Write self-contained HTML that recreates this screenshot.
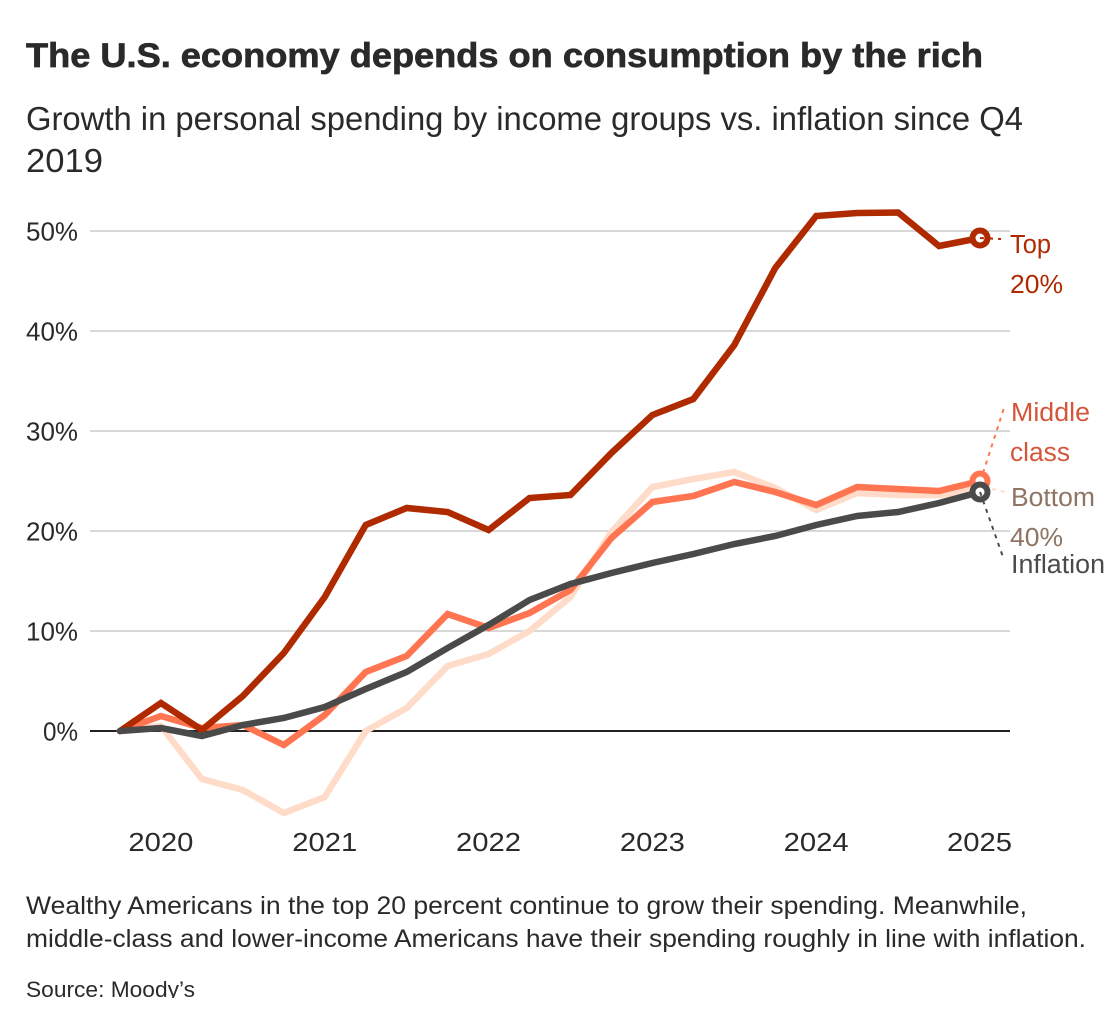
<!DOCTYPE html>
<html lang="en">
<head>
<meta charset="utf-8">
<title>The U.S. economy depends on consumption by the rich</title>
<style>
html,body{margin:0;padding:0;background:#fff;width:1120px;height:1024px;overflow:hidden}
svg{display:block}
text{font-family:"Liberation Sans",sans-serif;fill:#2a2a2a}
</style>
</head>
<body>
<svg id="chart" xmlns="http://www.w3.org/2000/svg" width="1120" height="1024" viewBox="0 0 1120 1024">
<defs><clipPath id="source-clip"><rect x="0" y="970" width="400" height="28"/></clipPath></defs>
<rect x="0" y="0" width="1120" height="1024" fill="#fff"/>
<text x="26" y="67" font-size="34.5" font-weight="700" textLength="957" lengthAdjust="spacingAndGlyphs" stroke="#2a2a2a" stroke-width="0.7">The U.S. economy depends on consumption by the rich</text>
<text x="26" y="130" font-size="33" textLength="997" lengthAdjust="spacingAndGlyphs">Growth in personal spending by income groups vs. inflation since Q4</text>
<text x="26" y="172" font-size="33" textLength="77" lengthAdjust="spacingAndGlyphs">2019</text>
<g id="grid"></g>
<g id="yticks"></g>
<g id="xticks"></g>
<g id="lines"></g>
<g id="ends"></g>
<g id="leaders"></g>
<g font-size="25.5">
<text style="fill:#b02a00" x="1010" y="253" textLength="41" lengthAdjust="spacingAndGlyphs">Top</text>
<text style="fill:#b02a00" x="1010" y="293" textLength="53" lengthAdjust="spacingAndGlyphs">20%</text>
<text style="fill:#d4553a" x="1011" y="421" textLength="79" lengthAdjust="spacingAndGlyphs">Middle</text>
<text style="fill:#d4553a" x="1010" y="461" textLength="60" lengthAdjust="spacingAndGlyphs">class</text>
<text style="fill:#8f7464" x="1011" y="506" textLength="84" lengthAdjust="spacingAndGlyphs">Bottom</text>
<text style="fill:#8f7464" x="1010" y="546" textLength="53" lengthAdjust="spacingAndGlyphs">40%</text>
<text style="fill:#4a4a4a" x="1011" y="573" textLength="94" lengthAdjust="spacingAndGlyphs">Inflation</text>
</g>
<text x="26" y="914" font-size="25" textLength="1001" lengthAdjust="spacingAndGlyphs">Wealthy Americans in the top 20 percent continue to grow their spending. Meanwhile,</text>
<text x="26" y="947" font-size="25" textLength="1060" lengthAdjust="spacingAndGlyphs">middle-class and lower-income Americans have their spending roughly in line with inflation.</text>
<text x="26" y="997" font-size="22.5" textLength="169" lengthAdjust="spacingAndGlyphs" clip-path="url(#source-clip)">Source: Moody’s</text>
</svg>
<script>
const yTickValues = [0, 10, 20, 30, 40, 50];
const xTickLabels = ["2020", "2021", "2022", "2023", "2024", "2025"];
const xTickIndexes = [1, 5, 9, 13, 17, 21];
const top20 = [0, 2.8, 0.1, 3.5, 7.8, 13.4, 20.6, 22.3, 21.9, 20.1, 23.3, 23.6, 27.8, 31.6, 33.2, 38.6, 46.3, 51.5, 51.8, 51.85, 48.5, 49.3];
const middleClass = [0, 1.5, 0.3, 0.6, -1.4, 1.6, 5.9, 7.5, 11.7, 10.3, 11.8, 14.1, 19.3, 22.9, 23.5, 24.9, 23.9, 22.6, 24.4, 24.2, 24, 25];
const bottom40 = [0, 0.5, -4.8, -5.9, -8.2, -6.6, 0, 2.3, 6.5, 7.7, 10, 13.4, 19.9, 24.4, 25.2, 25.9, 24.3, 22.1, 23.8, 23.6, 23.6, 24.2];
const inflation = [0, 0.3, -0.5, 0.6, 1.3, 2.4, 4.2, 5.9, 8.3, 10.6, 13.1, 14.7, 15.8, 16.8, 17.7, 18.7, 19.5, 20.6, 21.5, 21.9, 22.8, 23.9];

const NS = 'http://www.w3.org/2000/svg';
const xScale = i => 120 + (980 - 120) * i / (top20.length - 1);
const yScale = v => 731 - v * 10;
function make(parent, tag, attrs, text) {
  const el = document.createElementNS(NS, tag);
  for (const k in attrs) el.setAttribute(k, attrs[k]);
  if (text !== undefined) el.textContent = text;
  document.getElementById(parent).appendChild(el);
  return el;
}
yTickValues.forEach(v => {
  const line = make('grid', 'line', {x1: 90, x2: 1010, y1: yScale(v), y2: yScale(v), stroke: v === 0 ? '#222' : '#d8d8d8', 'stroke-width': 2});
  
  
  const txt = v + '%';
  const label = make('yticks', 'text', {x: 78, y: yScale(v) + 9.5, 'font-size': 25.5, 'text-anchor': 'end', textLength: txt.length === 2 ? 35 : 52, lengthAdjust: 'spacingAndGlyphs'}, txt);
  
  
});
xTickLabels.forEach((t, i) => {
  const label = make('xticks', 'text', {x: xScale(xTickIndexes[i]) + (i === 5 ? -0.5 : 0), y: 851, 'font-size': 25.5, 'text-anchor': 'middle', textLength: 65, lengthAdjust: 'spacingAndGlyphs'}, t);
  
  
});
function drawSeries(values, color, name) {
  const d = values.map((v, i) => (i ? 'L' : 'M') + xScale(i).toFixed(2) + ' ' + yScale(v).toFixed(2)).join(' ');
  const path = make('lines', 'path', {d: d, fill: 'none', stroke: color, 'stroke-width': 6.5, 'stroke-linejoin': 'miter', 'stroke-linecap': 'round'});
  
  
}
drawSeries(bottom40, '#ffdcc9', 'bottom-40');
drawSeries(middleClass, '#ff7552', 'middle-class');
drawSeries(top20, '#b02a00', 'top-20');
drawSeries(inflation, '#4a4a4a', 'inflation');
function drawLeader(values, color, dx1, dy1, x2, y2, name) {
  const last = values.length - 1;
  const leader = make('leaders', 'line', {x1: xScale(last) + dx1, y1: yScale(values[last]) + dy1, x2: x2, y2: y2, stroke: color, 'stroke-width': 2, 'stroke-dasharray': '4 5'});
  
  
}
function drawEnd(values, color, name) {
  const last = values.length - 1;
  const c = make('ends', 'circle', {cx: xScale(last), cy: yScale(values[last]), r: 7.5, fill: '#fff', stroke: color, 'stroke-width': 6});
  
  
}
drawEnd(top20, '#b02a00', 'top-20');
drawEnd(middleClass, '#ff7552', 'middle-class');
drawEnd(inflation, '#4a4a4a', 'inflation');
drawLeader(top20, '#b02a00', 0, 0, 1001, 239, 'top-20');
drawLeader(middleClass, '#ff7552', 3, -8, 1004, 408, 'middle-class');
drawLeader(bottom40, '#ffdcc9', 12, 0, 1005, 492, 'bottom-40');
drawLeader(inflation, '#4a4a4a', 0, 0, 1003, 557, 'inflation');
</script>
</body>
</html>
